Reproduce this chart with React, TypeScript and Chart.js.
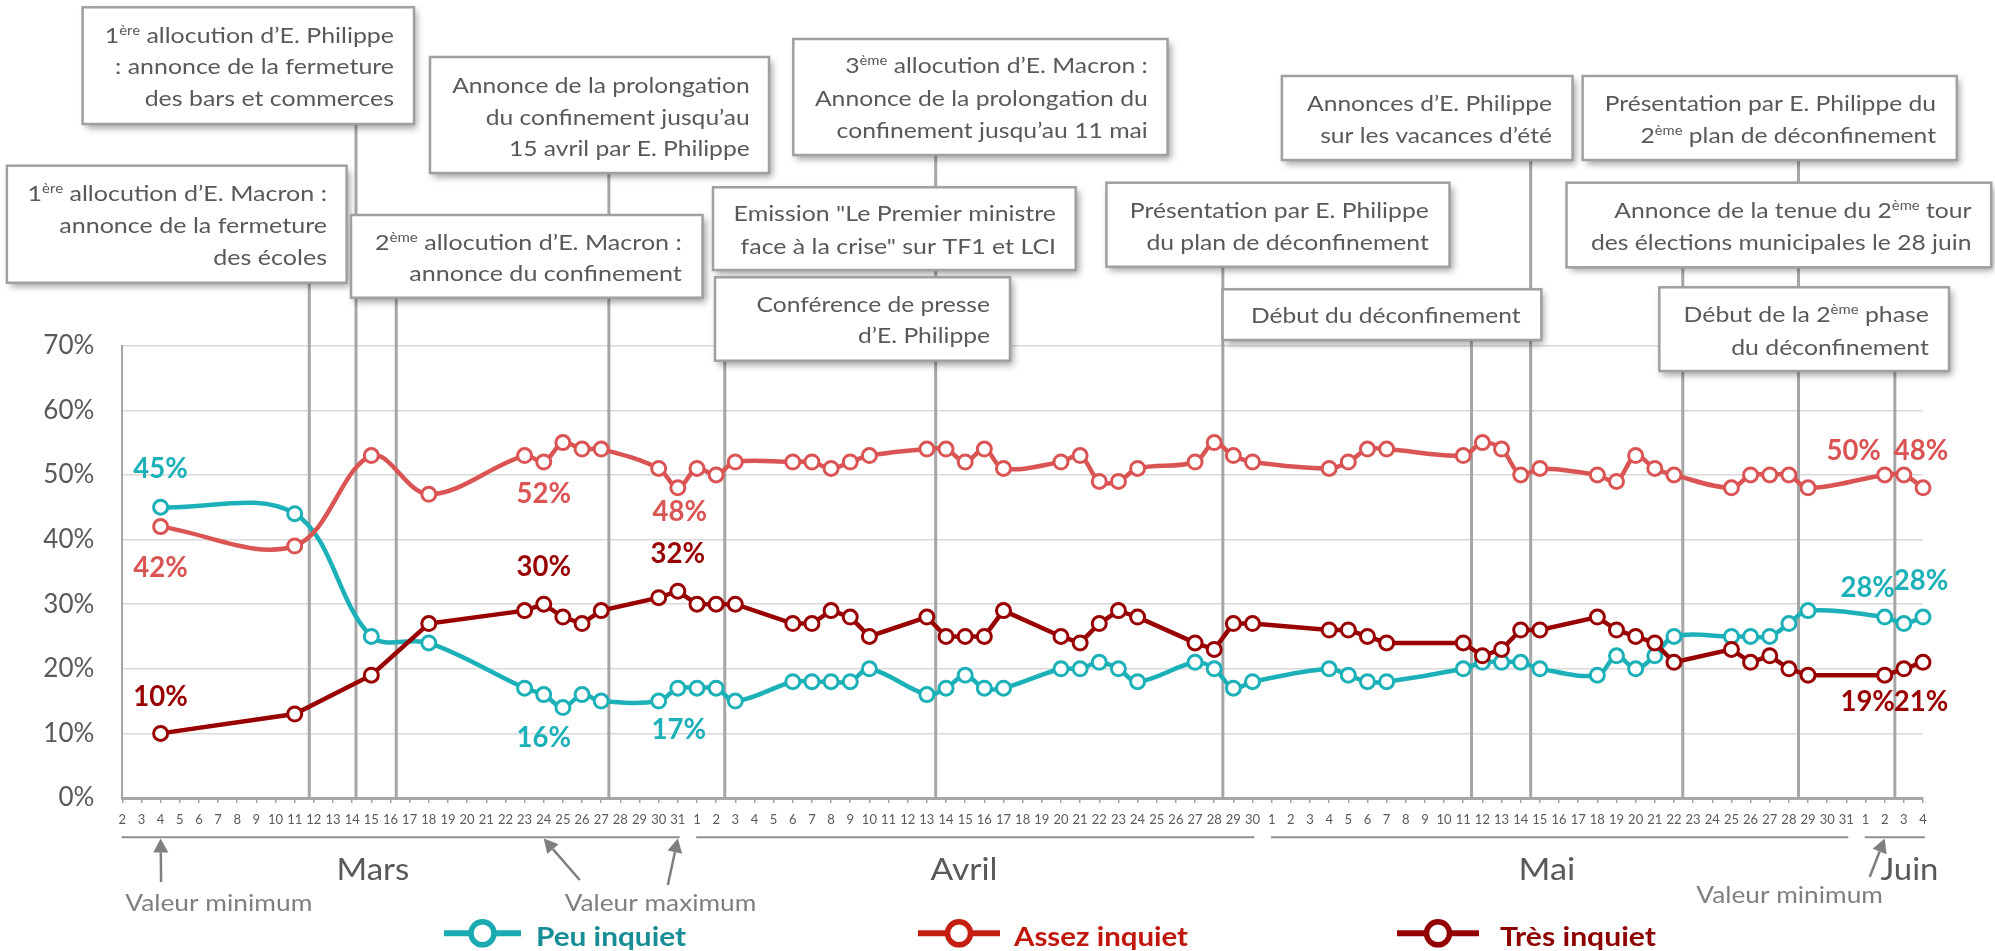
import React, { useEffect, useRef } from "react";
import { Chart, registerables } from "chart.js";

Chart.register(...registerables);

const FONT = "Lato, 'Open Sans', 'DejaVu Sans', sans-serif";

// ---------------- DATA ----------------
const surveyDates = [
  "03-04", "03-11", "03-15", "03-18", "03-23", "03-24", "03-25", "03-26", "03-27", "03-30", "03-31",
  "04-01", "04-02", "04-03", "04-06", "04-07", "04-08", "04-09", "04-10", "04-13", "04-14", "04-15",
  "04-16", "04-17", "04-20", "04-21", "04-22", "04-23", "04-24", "04-27", "04-28", "04-29", "04-30",
  "05-04", "05-05", "05-06", "05-07", "05-11", "05-12", "05-13", "05-14", "05-15", "05-18", "05-19",
  "05-20", "05-21", "05-22", "05-25", "05-26", "05-27", "05-28", "05-29",
  "06-02", "06-03", "06-04",
];
const peuInquiet = [
  45, 44, 25, 24, 17, 16, 14, 16, 15, 15, 17,
  17, 17, 15, 18, 18, 18, 18, 20, 16, 17, 19,
  17, 17, 20, 20, 21, 20, 18, 21, 20, 17, 18,
  20, 19, 18, 18, 20, 21, 21, 21, 20, 19, 22,
  20, 22, 25, 25, 25, 25, 27, 29,
  28, 27, 28,
];
const assezInquiet = [
  42, 39, 53, 47, 53, 52, 55, 54, 54, 51, 48,
  51, 50, 52, 52, 52, 51, 52, 53, 54, 54, 52,
  54, 51, 52, 53, 49, 49, 51, 52, 55, 53, 52,
  51, 52, 54, 54, 53, 55, 54, 50, 51, 50, 49,
  53, 51, 50, 48, 50, 50, 50, 48,
  50, 50, 48,
];
const tresInquiet = [
  10, 13, 19, 27, 29, 30, 28, 27, 29, 31, 32,
  30, 30, 30, 27, 27, 29, 28, 25, 28, 25, 25,
  25, 29, 25, 24, 27, 29, 28, 24, 23, 27, 27,
  26, 26, 25, 24, 24, 22, 23, 26, 26, 28, 26,
  25, 24, 21, 23, 21, 22, 20, 19,
  19, 20, 21,
];
const seriesNames = ["Peu inquiet", "Assez inquiet", "Très inquiet"];
const seriesValues = [peuInquiet, assezInquiet, tresInquiet];
const monthNames = ["Mars", "Avril", "Mai", "Juin"];
const monthFirstDays = ["03-02", "04-01", "05-01", "06-01"];
const monthLastDays = ["03-31", "04-30", "05-31", "06-04"];
const yTickMax = 70;
const yTickStep = 10;

// day index since 2 March 2020
const dayIndex = (mmdd: string) => {
  const [m, d] = mmdd.split("-").map(Number);
  return Math.round((Date.UTC(2020, m - 1, d) - Date.UTC(2020, 2, 2)) / 86400000);
};
const LAST_DAY = dayIndex("06-04");
const dayTickLabels = Array.from({ length: LAST_DAY + 1 }, (_, i) =>
  String(new Date(2020, 2, 2 + i).getDate())
);

// ---------------- ANNOTATIONS (layout) ----------------
type Box = {
  date: string; frac: number;
  x0: number; y0: number; x1: number; y1: number;
  tl: number; tr: number; centers: number[]; lines: string[];
};
const eventBoxes: Box[] = [
  { date: "03-14", frac: 0.2, x0: 82.6, y0: 7.3, x1: 414, y1: 124, tl: 104.7, tr: 394, centers: [35, 66, 98],
    lines: ["1^{ère} allocution d’E. Philippe", ": annonce de la fermeture", "des bars et commerces"] },
  { date: "03-11", frac: 0.76, x0: 6.9, y0: 165.7, x1: 346.6, y1: 282.7, tl: 27.5, tr: 327, centers: [193, 225, 257],
    lines: ["1^{ère} allocution d’E. Macron :", "annonce de la fermeture", "des écoles"] },
  { date: "03-16", frac: 0.3, x0: 351, y0: 215, x1: 702.5, y1: 297.7, tl: 375, tr: 681.8, centers: [241.7, 273.3],
    lines: ["2^{ème} allocution d’E. Macron :", "annonce du confinement"] },
  { date: "03-27", frac: 0.4, x0: 430, y0: 57, x1: 769, y1: 173, tl: 452.2, tr: 749.7, centers: [85, 116.7, 148.3],
    lines: ["Annonce de la prolongation", "du confinement jusqu’au", "15 avril par E. Philippe"] },
  { date: "04-13", frac: 0.46, x0: 793.3, y0: 39, x1: 1167.5, y1: 155, tl: 814.9, tr: 1147.8, centers: [65, 98.3, 130],
    lines: ["3^{ème} allocution d’E. Macron :", "Annonce de la prolongation du", "confinement jusqu’au 11 mai"] },
  { date: "", frac: 0, x0: 713, y0: 187.3, x1: 1075.7, y1: 270, tl: 733.6, tr: 1056, centers: [213.3, 246],
    lines: ["Emission \"Le Premier ministre", "face à la crise\" sur TF1 et LCI"] },
  { date: "04-02", frac: 0.45, x0: 715, y0: 277.3, x1: 1010, y1: 360.7, tl: 756.6, tr: 990, centers: [304, 335],
    lines: ["Conférence de presse", "d’E. Philippe"] },
  { date: "04-28", frac: 0.45, x0: 1106.4, y0: 182.7, x1: 1449.5, y1: 266.7, tl: 1129.8, tr: 1428.8, centers: [210, 241.7],
    lines: ["Présentation par E. Philippe", "du plan de déconfinement"] },
  { date: "05-11", frac: 0.43, x0: 1222.6, y0: 289.3, x1: 1541.3, y1: 340, tl: 1251, tr: 1520.6, centers: [315],
    lines: ["Début du déconfinement"] },
  { date: "05-14", frac: 0.52, x0: 1281.9, y0: 76, x1: 1572.5, y1: 160, tl: 1307.1, tr: 1551.9, centers: [103.3, 135],
    lines: ["Annonces d’E. Philippe", "sur les vacances d’été"] },
  { date: "05-28", frac: 0.5, x0: 1582.6, y0: 76, x1: 1956.8, y1: 160, tl: 1604.7, tr: 1936, centers: [103.3, 135],
    lines: ["Présentation par E. Philippe du", "2^{ème} plan de déconfinement"] },
  { date: "05-22", frac: 0.46, x0: 1566.5, y0: 182.7, x1: 1991.2, y1: 267.3, tl: 1590.9, tr: 1971.5, centers: [210, 241.7],
    lines: ["Annonce de la tenue du 2^{ème} tour", "des élections municipales le 28 juin"] },
  { date: "06-02", frac: 0.53, x0: 1659.3, y0: 287.3, x1: 1949, y1: 371, tl: 1683.6, tr: 1928.8, centers: [314.3, 346.7],
    lines: ["Début de la 2^{ème} phase", "du déconfinement"] },
];

const valueLabels = [
  { s: 0, date: "03-04", dx: 0, dy: -39 },
  { s: 1, date: "03-04", dx: 0, dy: 40 },
  { s: 2, date: "03-04", dx: 0, dy: -37 },
  { s: 1, date: "03-24", dx: 0, dy: 31 },
  { s: 2, date: "03-24", dx: 0, dy: -38 },
  { s: 0, date: "03-24", dx: 0, dy: 42 },
  { s: 1, date: "03-31", dx: 2, dy: 23 },
  { s: 2, date: "03-31", dx: 0, dy: -38 },
  { s: 0, date: "03-31", dx: 1, dy: 41 },
  { s: 1, date: "06-02", dx: -31, dy: -25 },
  { s: 1, date: "06-04", dx: -2, dy: -38 },
  { s: 0, date: "06-02", dx: -17, dy: -30 },
  { s: 0, date: "06-04", dx: -2, dy: -37 },
  { s: 2, date: "06-02", dx: -17, dy: 26 },
  { s: 2, date: "06-04", dx: -2, dy: 39 },
];

const monthLabelDays = [13.08, 43.94, 74.37, 93.29];
const monthLabelWidths = [72.8, 67, 56.7, 58];

const arrows = [
  { date: "03-04", dx: 0.5, tailY: 882 },
  { date: "03-24", dx: 36, tailY: 880 },
  { date: "03-31", dx: -10, tailY: 885 },
  { date: "06-02", dx: -15, tailY: 877 },
];
const noteLabels = [
  { text: "Valeur minimum", cx: 218.8, base: 911, w: 187 },
  { text: "Valeur maximum", cx: 660.5, base: 911, w: 191.6 },
  { text: "Valeur minimum", cx: 1789.6, base: 903.3, w: 186.6 },
];

const seriesColors = ["#1CB0B8", "#DB5454", "#990000"];
const seriesTension = [0.35, 0.35, 0];
const legendItems = [
  { s: 0, x1: 444, x2: 521, tx: 536, tw: 150, text: "#178E95", mark: "#1AAAB2" },
  { s: 1, x1: 918, x2: 1000, tx: 1014, tw: 174, text: "#C0170C", mark: "#C41E10" },
  { s: 2, x1: 1397, x2: 1479, tx: 1500, tw: 156, text: "#8E0000", mark: "#930000" },
];

// ---------------- TEXT HELPERS ----------------
function parseRich(s: string) {
  const out: { t: string; sup: boolean }[] = [];
  const re = /\^\{([^}]*)\}/g;
  let last = 0;
  let m: RegExpExecArray | null;
  while ((m = re.exec(s))) {
    if (m.index > last) out.push({ t: s.slice(last, m.index), sup: false });
    out.push({ t: m[1], sup: true });
    last = re.lastIndex;
  }
  if (last < s.length) out.push({ t: s.slice(last), sup: false });
  return out;
}
const fontStr = (size: number, weight: string) => `${weight} ${size}px ${FONT}`;
function richWidth(ctx: CanvasRenderingContext2D, s: string, size: number, weight: string) {
  let w = 0;
  for (const seg of parseRich(s)) {
    ctx.font = fontStr(seg.sup ? size * 0.6 : size, weight);
    w += ctx.measureText(seg.t).width;
  }
  return w;
}
function drawRich(
  ctx: CanvasRenderingContext2D, s: string, x: number, base: number, size: number,
  weight: string, color: string, align: string, sx: number
) {
  const w = richWidth(ctx, s, size, weight);
  ctx.save();
  ctx.translate(x, base);
  ctx.scale(sx, 1);
  let cx = align === "right" ? -w : align === "center" ? -w / 2 : 0;
  ctx.fillStyle = color;
  ctx.textAlign = "left";
  ctx.textBaseline = "alphabetic";
  for (const seg of parseRich(s)) {
    const fs = seg.sup ? size * 0.6 : size;
    ctx.font = fontStr(fs, weight);
    ctx.fillText(seg.t, cx, seg.sup ? -size * 0.36 : 0);
    cx += ctx.measureText(seg.t).width;
  }
  ctx.restore();
}
function drawFit(
  ctx: CanvasRenderingContext2D, s: string, x: number, base: number, size: number,
  weight: string, color: string, align: string, target: number
) {
  const w = richWidth(ctx, s, size, weight);
  drawRich(ctx, s, x, base, size, weight, color, align, target / w);
}

const annotationPlugin = {
  id: "opinionAnnotations",
  beforeDatasetsDraw(chart: any) {
    const ctx: CanvasRenderingContext2D = chart.ctx;
    const xs = chart.scales.x;
    const bottom = chart.chartArea.bottom;
    ctx.save();
    ctx.strokeStyle = "#A6A6A6";
    ctx.lineWidth = 3;
    for (const b of eventBoxes) {
      if (!b.date) continue;
      const x = xs.getPixelForValue(dayIndex(b.date) + b.frac);
      ctx.beginPath();
      ctx.moveTo(x, b.y1);
      ctx.lineTo(x, bottom);
      ctx.stroke();
    }
    ctx.restore();
  },
  afterDatasetsDraw(chart: any) {
    const ctx: CanvasRenderingContext2D = chart.ctx;
    const xs = chart.scales.x;
    const ys = chart.scales.y;
    const size = 28;
    for (const l of valueLabels) {
      const idx = surveyDates.indexOf(l.date);
      const v = seriesValues[l.s][idx];
      const px = xs.getPixelForValue(dayIndex(l.date)) + l.dx;
      const py = ys.getPixelForValue(v) + l.dy;
      drawFit(ctx, `${v}%`, px, py + size * 0.36, size, "bold", seriesColors[l.s], "center", 54.5);
    }
  },
  afterDraw(chart: any) {
    const ctx: CanvasRenderingContext2D = chart.ctx;
    const xs = chart.scales.x;
    // annotation boxes
    for (const b of eventBoxes) {
      ctx.save();
      ctx.shadowColor = "rgba(0,0,0,0.38)";
      ctx.shadowBlur = 7;
      ctx.shadowOffsetX = 3;
      ctx.shadowOffsetY = 4;
      ctx.fillStyle = "#FFFFFF";
      ctx.fillRect(b.x0, b.y0, b.x1 - b.x0, b.y1 - b.y0);
      ctx.restore();
      ctx.save();
      ctx.strokeStyle = "#A0A0A0";
      ctx.lineWidth = 2.5;
      ctx.strokeRect(b.x0, b.y0, b.x1 - b.x0, b.y1 - b.y0);
      ctx.restore();
      const size = 22;
      let maxW = 0;
      for (const ln of b.lines) maxW = Math.max(maxW, richWidth(ctx, ln, size, "normal"));
      const sx = (b.tr - b.tl) / maxW;
      b.lines.forEach((ln, i) => {
        drawRich(ctx, ln, b.tr, b.centers[i] + size * 0.36, size, "normal", "#595959", "right", sx);
      });
    }
    // month separator lines and labels
    ctx.save();
    ctx.strokeStyle = "#8F8F8F";
    ctx.lineWidth = 2;
    monthNames.forEach((name, i) => {
      const a = xs.getPixelForValue(dayIndex(monthFirstDays[i]) - 0.04);
      const e = xs.getPixelForValue(dayIndex(monthLastDays[i]) + 0.1);
      ctx.beginPath();
      ctx.moveTo(a, 837.3);
      ctx.lineTo(e, 837.3);
      ctx.stroke();
      drawFit(ctx, name, xs.getPixelForValue(monthLabelDays[i]), 880, 31, "normal", "#595959", "center", monthLabelWidths[i]);
    });
    ctx.restore();
    // arrows
    ctx.save();
    ctx.strokeStyle = "#7F7F7F";
    ctx.fillStyle = "#7F7F7F";
    ctx.lineWidth = 2.5;
    for (const a of arrows) {
      const tipX = xs.getPixelForValue(dayIndex(a.date));
      const tipY = 838.5;
      const tailX = tipX + a.dx;
      const tailY = a.tailY;
      const ang = Math.atan2(tipY - tailY, tipX - tailX);
      const hl = 14, hw = 7.5;
      const bx = tipX - hl * Math.cos(ang);
      const by = tipY - hl * Math.sin(ang);
      ctx.beginPath();
      ctx.moveTo(tailX, tailY);
      ctx.lineTo(bx, by);
      ctx.stroke();
      ctx.beginPath();
      ctx.moveTo(tipX, tipY);
      ctx.lineTo(bx + hw * Math.sin(ang), by - hw * Math.cos(ang));
      ctx.lineTo(bx - hw * Math.sin(ang), by + hw * Math.cos(ang));
      ctx.closePath();
      ctx.fill();
    }
    ctx.restore();
    for (const n of noteLabels) {
      drawFit(ctx, n.text, n.cx, n.base, 23, "normal", "#7F7F7F", "center", n.w);
    }
    // legend
    for (const it of legendItems) {
      const y = 933.3;
      ctx.save();
      ctx.strokeStyle = it.mark;
      ctx.lineWidth = 6;
      ctx.beginPath();
      ctx.moveTo(it.x1, y);
      ctx.lineTo(it.x2, y);
      ctx.stroke();
      ctx.beginPath();
      ctx.arc((it.x1 + it.x2) / 2, y, 11.5, 0, Math.PI * 2);
      ctx.fillStyle = "#FFFFFF";
      ctx.fill();
      ctx.lineWidth = 5.5;
      ctx.stroke();
      ctx.restore();
      drawFit(ctx, seriesNames[it.s], it.tx, 946, 27, "bold", it.text, "left", it.tw);
    }
  },
};

export default function App() {
  const ref = useRef<HTMLCanvasElement | null>(null);
  useEffect(() => {
    document.body.style.margin = "0";
    const canvas = ref.current;
    if (!canvas) return;
    const chart = new Chart(canvas, {
      type: "line",
      data: {
        datasets: seriesValues.map((vals, i) => ({
          label: seriesNames[i],
          data: surveyDates.map((d, j) => ({ x: dayIndex(d), y: vals[j] })),
          borderColor: seriesColors[i],
          backgroundColor: "#FFFFFF",
          borderWidth: 4.5,
          tension: seriesTension[i],
          pointRadius: 7,
          pointBorderWidth: 3,
          pointBackgroundColor: "#FFFFFF",
          pointBorderColor: seriesColors[i],
          clip: false as any,
          order: [3, 2, 1][i],
        })),
      },
      options: {
        animation: false,
        responsive: false,
        devicePixelRatio: 1,
        layout: { padding: { top: 345.7, right: 72, bottom: 0, left: 0 } },
        plugins: { legend: { display: false }, tooltip: { enabled: false } },
        events: [],
        scales: {
          x: {
            type: "linear",
            min: 0,
            max: LAST_DAY,
            offset: false,
            grid: { display: true, drawOnChartArea: false, drawTicks: true, tickLength: 5, color: "#A6A6A6", lineWidth: 1.5 },
            border: { display: true, color: "#A6A6A6", width: 3 },
            ticks: {
              stepSize: 1,
              autoSkip: false,
              maxRotation: 0,
              minRotation: 0,
              padding: 9,
              color: "#595959",
              font: { family: FONT, size: 13 },
              callback: (v: any) => dayTickLabels[Number(v)] ?? "",
            },
            afterFit: (s: any) => { s.height = 153; },
          },
          y: {
            min: 0,
            max: yTickMax,
            ticks: {
              stepSize: yTickStep,
              padding: 28,
              color: "#595959",
              font: { family: FONT, size: 26 },
              callback: (v: any) => `${v}%`,
            },
            grid: { color: "#D9D9D9", lineWidth: 1.5, drawTicks: false },
            border: { display: true, color: "#A6A6A6", width: 2 },
            afterFit: (s: any) => { s.width = 122.3; },
          },
        },
      } as any,
      plugins: [annotationPlugin as any],
    });
    return () => chart.destroy();
  }, []);
  return <canvas ref={ref} width={1995} height={951} style={{ display: "block" }} />;
}
